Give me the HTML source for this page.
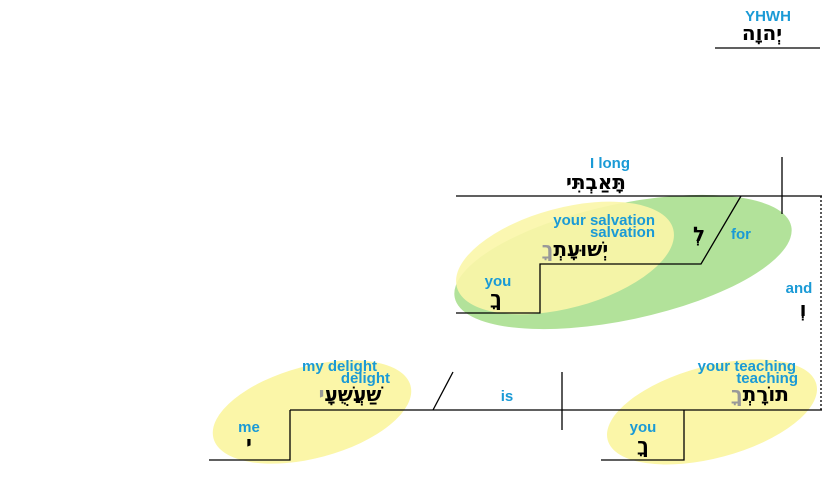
<!DOCTYPE html>
<html><head><meta charset="utf-8"><style>
body{margin:0;background:#fff}
svg{display:block}
.b{font-family:"Liberation Sans",sans-serif;font-weight:bold;font-size:15px;fill:#1a9ad6}
.h{font-family:"DejaVu Sans","Liberation Serif",sans-serif;font-weight:bold;font-size:20px;fill:#000}
.g{fill:#999}
</style></head><body>
<svg width="825" height="481" viewBox="0 0 825 481">
<ellipse cx="623" cy="262" rx="172" ry="58" transform="rotate(-12 623 262)" fill="#b2e29a"/>
<ellipse cx="565" cy="258" rx="112" ry="50" transform="rotate(-15 565 258)" fill="#fbf6a8" opacity="0.9"/>
<ellipse cx="312" cy="412" rx="102" ry="46" transform="rotate(-15 312 412)" fill="#fbf6a8"/>
<ellipse cx="712" cy="412" rx="108" ry="46" transform="rotate(-15 712 412)" fill="#fbf6a8"/>
<g stroke="#000" stroke-width="1.3" fill="none">
<line x1="715" y1="48" x2="820" y2="48"/>
<line x1="456" y1="196" x2="822" y2="196"/>
<line x1="782" y1="157" x2="782" y2="214"/>
<line x1="821" y1="196" x2="821" y2="410" stroke-dasharray="2,2"/>
<polyline points="741,196 701,264 540,264 540,313 456,313"/>
<line x1="290" y1="410" x2="822" y2="410"/>
<line x1="433" y1="410" x2="453" y2="372"/>
<line x1="562" y1="372" x2="562" y2="430"/>
<polyline points="290,410 290,460 209,460"/>
<polyline points="684,410 684,460 601,460"/>
</g>
<text class="b" x="768" y="21" text-anchor="middle">YHWH</text>
<text class="h" x="762" y="40" text-anchor="middle">יְהוָה</text>
<text class="b" x="610" y="168" text-anchor="middle">I long</text>
<text class="h" x="596" y="189" text-anchor="middle">תָּאַבְתִּי</text>
<text class="b" x="655" y="225" text-anchor="end">your salvation</text>
<text class="b" x="655" y="237" text-anchor="end">salvation</text>
<text class="h" x="575" y="256" text-anchor="middle" direction="rtl">יְשׁוּעָתְ<tspan class="g">ךָ</tspan></text>
<text class="b" x="498" y="286" text-anchor="middle">you</text>
<text class="h" x="496" y="305" text-anchor="middle">ךָ</text>
<text class="h" x="699" y="241" text-anchor="middle">לְ</text>
<text class="b" x="741" y="239" text-anchor="middle">for</text>
<text class="b" x="799" y="293" text-anchor="middle">and</text>
<text class="h" x="803" y="316" text-anchor="middle">וְ</text>
<text class="b" x="507" y="401" text-anchor="middle">is</text>
<text class="b" x="377" y="371" text-anchor="end">my delight</text>
<text class="b" x="390" y="383" text-anchor="end">delight</text>
<text class="h" x="350" y="401" text-anchor="middle" direction="rtl">שַׁעֲשֻׁעָ<tspan class="g">י</tspan></text>
<text class="b" x="249" y="432" text-anchor="middle">me</text>
<text class="h" x="249" y="450" text-anchor="middle">י</text>
<text class="b" x="796" y="371" text-anchor="end">your teaching</text>
<text class="b" x="798" y="383" text-anchor="end">teaching</text>
<text class="h" x="760" y="401" text-anchor="middle" direction="rtl">תוֹרָתְ<tspan class="g">ךָ</tspan></text>
<text class="b" x="643" y="432" text-anchor="middle">you</text>
<text class="h" x="643" y="452" text-anchor="middle">ךָ</text>
</svg>
</body></html>
